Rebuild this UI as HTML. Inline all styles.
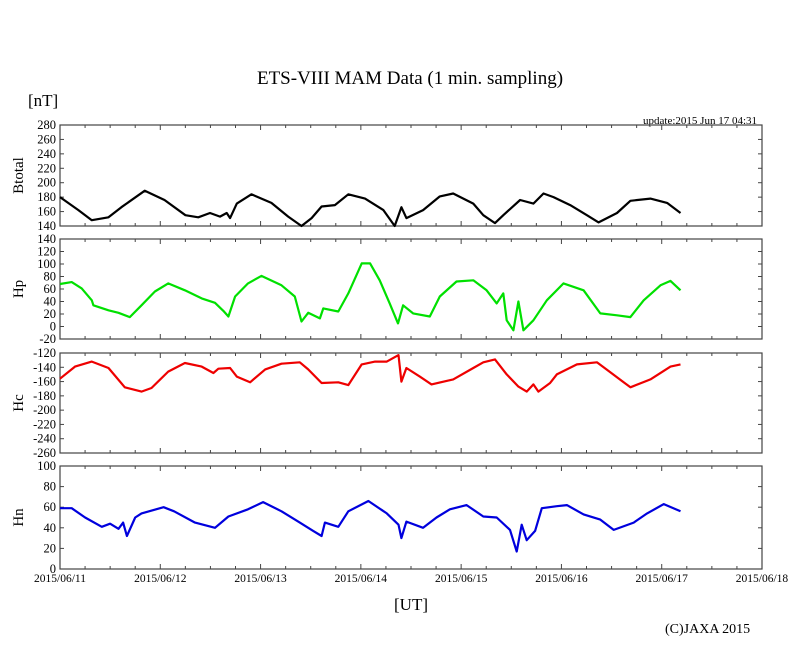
<!DOCTYPE html>
<html><head><meta charset="utf-8"><style>
body{margin:0;background:#fff}
svg{display:block;font-family:"Liberation Serif",serif}
</style></head><body>
<svg id="chart" width="810" height="655" viewBox="0 0 810 655" xmlns="http://www.w3.org/2000/svg">
<text x="410" y="84" font-size="19" text-anchor="middle">ETS-VIII MAM Data (1 min. sampling)</text>
<text x="28" y="106" font-size="17">[nT]</text>
<text x="757" y="124" font-size="11" text-anchor="end">update:2015 Jun 17 04:31</text>
<text x="411" y="610" font-size="17" text-anchor="middle">[UT]</text>
<text x="665" y="633" font-size="14">(C)JAXA 2015</text>
<g id="plots"></g>
</svg>
<script>
const xTickLabels=["2015/06/11","2015/06/12","2015/06/13","2015/06/14","2015/06/15","2015/06/16","2015/06/17","2015/06/18"];
const btHours=[0,4.4,7.6,11.6,14.7,20.3,25,30,33.1,35.9,38.3,39.9,40.7,42.3,45.8,50.6,54.6,57.8,60.2,62.6,65.8,69,73,77.4,80.1,81.7,82.9,86.9,90.9,94.1,98.9,101.3,104.1,106.1,110.1,113.3,115.7,118.1,122.1,126.1,128.9,133.3,136.5,141.3,145.3,148.5];
const btValues=[180,162,148,152,166,189,176,155,152,158,153,158,151,171,184,172,153,140,151,167,169,184,178,162,140,166,151,162,181,185,171,155,144,155,176,171,185,180,169,155,145,158,175,178,172,158];
const hpHours=[0,2.8,5.2,7.6,8,11.6,14,16.7,19.5,22.7,25.9,29.9,33.9,37.1,39.1,40.3,41.9,45,48.2,53,56.2,57.8,59.4,62.2,63,66.6,69,72.2,74.2,76.5,78.9,80.9,82.1,84.5,88.5,90.9,94.9,98.9,102.1,104.5,106.1,106.9,108.5,109.7,110.9,113.3,116.5,120.5,125.3,129.3,133.3,136.5,139.7,143.7,146.1,148.5];
const hpValues=[68,71,61,42,34,26,22,15,34,56,69,58,45,38,25,16,48,69,81,66,48,8,22,13,29,24,53,101,101,74,37,5,34,21,16,48,72,74,58,37,53,10,-6,40,-6,10,42,69,58,21,18,15,42,66,73,58];
const hcHours=[0,3.6,7.6,11.6,15.5,19.5,21.9,25.9,29.9,33.9,36.7,37.9,40.7,42.3,45.5,49.1,53,57.4,59.4,62.6,66.6,69,72.2,75.4,78.2,81,81.7,82.9,86.1,88.9,94.1,98.9,101.3,104.1,106.9,109.7,111.7,113.3,114.5,117.3,118.9,123.7,128.5,131.7,136.5,141.3,146.1,148.5];
const hcValues=[-156,-139,-132,-141,-168,-174,-169,-146,-134,-139,-148,-142,-141,-153,-161,-143,-135,-133,-143,-162,-161,-165,-136,-132,-132,-123,-160,-141,-153,-164,-157,-141,-133,-129,-150,-167,-174,-164,-174,-162,-150,-136,-133,-147,-168,-157,-139,-136];
const hnHours=[0,2.8,6,10,12,14,15.1,16,18,19.5,24.8,27.3,32.3,37.1,40.3,45,48.6,53,57,60.6,62.6,63.4,66.6,69,73.8,78.2,81,81.7,82.9,86.9,90.1,93.3,97.3,101.3,104.5,107.7,109.3,110.5,111.7,113.7,115.3,118.9,121.3,125.3,129.3,132.5,137.3,140.5,144.5,148.5];
const hnValues=[59,59,50,41,44,39,45,32,50,54,60,56,45,40,51,58,65,56,46,37,32,45,41,56,66,54,43,30,46,40,50,58,62,51,50,38,17,43,28,37,59,61,62,53,48,38,45,54,63,56];
const panelNames=["Btotal","Hp","Hc","Hn"];
const panelMin=[140,-20,-260,0];
const panelMax=[280,140,-120,100];
const panelStep=[20,20,20,20];

const NS="http://www.w3.org/2000/svg";
const g=document.getElementById('plots');
const X0=60,X1=762,HOURS=168;
const tops=[125,239,353,466],bots=[226,339,453,569];
const colors=["#000","#00e000","#ee0000","#0000dd"];
const hours=[btHours,hpHours,hcHours,hnHours];
const vals=[btValues,hpValues,hcValues,hnValues];
const xs=h=>X0+h*(X1-X0)/HOURS;
function mk(t,a,parent){const e=document.createElementNS(NS,t);for(const k in a)e.setAttribute(k,a[k]);(parent||g).appendChild(e);return e;}
for(let p=0;p<4;p++){
  const T=tops[p],B=bots[p],mn=panelMin[p],mx=panelMax[p];
  const ys=v=>B-(v-mn)*(B-T)/(mx-mn);
  const pg=mk('g',{});
  
  
  const fr=mk('rect',{x:X0,y:T,width:X1-X0,height:B-T,fill:'none',stroke:'#444','stroke-width':1.2},pg);
  
  
  for(let v=mn;v<=mx;v+=panelStep[p]){
    const y=ys(v);
    mk('line',{x1:X0,x2:X0+4,y1:y,y2:y,stroke:'#444'},pg);
    mk('line',{x1:X1,x2:X1-4,y1:y,y2:y,stroke:'#444'},pg);
    const t=mk('text',{x:X0-4,y:y+4,'font-size':12.5,'text-anchor':'end'},pg);
    t.textContent=v;
    
    
  }
  for(let h=0;h<=HOURS;h+=6){
    const x=xs(h),len=h%24===0?5:3;
    mk('line',{x1:x,x2:x,y1:B,y2:B-len,stroke:'#444'},pg);
    mk('line',{x1:x,x2:x,y1:T,y2:T+len,stroke:'#444'},pg);
  }
  const yl=mk('text',{x:0,y:0,'font-size':15,'text-anchor':'middle',transform:`translate(23,${(T+B)/2}) rotate(-90)`},pg);
  yl.textContent=panelNames[p];
  
  
  let d='';
  hours[p].forEach((h,i)=>{d+=(i?'L':'M')+xs(h).toFixed(1)+','+ys(vals[p][i]).toFixed(1);});
  const ln=mk('path',{d:d,fill:'none',stroke:colors[p],'stroke-width':2.2,'stroke-linejoin':'round'},pg);
  
  
}
xTickLabels.forEach((s,i)=>{
  const t=mk('text',{x:xs(i*24),y:582,'font-size':11.5,'text-anchor':'middle'});
  t.textContent=s;
  
  
});
</script>
</body></html>
